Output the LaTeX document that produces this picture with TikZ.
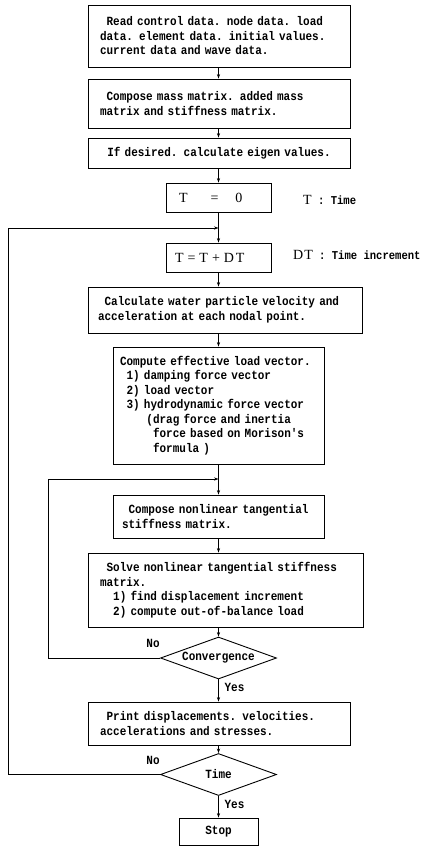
\documentclass[tikz,border=0pt]{standalone}
\usepackage{fontspec}
\setmainfont{Liberation Serif}
\setmonofont{Liberation Mono}[FakeStretch=0.88]
\usetikzlibrary{shapes.geometric,arrows.meta}
\newlength\chw
\setlength\chw{6.6pt}
\newcommand\ind[1]{\hspace*{#1\chw}}
\newcommand\bigT[1]{{\rmfamily\mdseries\fontsize{14}{14}\selectfont #1}}
\begin{document}
\begin{tikzpicture}[x=1pt,y=-1pt,
  txt/.style={font=\ttfamily\bfseries\fontsize{12.5}{14.5}\selectfont},
  box/.style={txt, draw, line width=0.9pt, inner ysep=0pt, inner xsep=12pt, align=left},
  tbox/.style={draw, line width=0.9pt, inner ysep=0pt, align=left, minimum height=29pt,
               font=\rmfamily\fontsize{14}{14}\selectfont},
  dia/.style={txt, draw, line width=0.9pt, diamond, aspect=2.76, inner sep=0pt,
              minimum width=116pt, minimum height=42pt},
  lbl/.style={txt, inner sep=0pt},
  rlbl/.style={font=\ttfamily\bfseries\fontsize{12}{12}\selectfont, inner sep=0pt, anchor=west},
  arr/.style={line width=0.8pt, -{Stealth[length=4.5pt,width=3.2pt]}}]
\fill[white] (0,0) rectangle (423,846);
\useasboundingbox (0,0) rectangle (423,846);

\node[box, text width=238pt, minimum height=62pt] (b1) at (219,36)
  {\ind{1}Read control data. node data. load\\data. element data. initial values.\\current data and wave data.};
\node[box, text width=238pt, minimum height=49pt] (b2) at (219,103.5)
  {\ind{1}Compose mass matrix. added mass\\matrix and stiffness matrix.};
\node[box, text width=238pt, minimum height=30pt, align=center] (b3) at (219,153)
  {If desired. calculate eigen values.};
\node[tbox, inner xsep=13pt, text width=79pt] (t0) at (218.5,197.5)
  {T\hspace{23pt}=\hspace{17pt}0};
\node[tbox, inner xsep=9pt, text width=87pt] (t1) at (218.5,257.5)
  {T\hspace{4pt}=\hspace{4pt}T\hspace{4pt}+\hspace{4pt}D\hspace{2pt}T};
\node[box, inner xsep=10pt, text width=254pt, minimum height=46pt] (b4) at (225,310)
  {\ind{1}Calculate water particle velocity and\\acceleration at each nodal point.};
\node[box, inner xsep=7pt, text width=197pt, minimum height=117pt] (b5) at (218.5,405.5)
  {Compute effective load vector.\\
   \ind{1}1) damping force vector\\
   \ind{1}2) load vector\\
   \ind{1}3) hydrodynamic force vector\\
   \ind{4}(drag force and inertia\\
   \ind{5}force based on Morison's\\
   \ind{5}formula )};
\node[box, inner xsep=9pt, text width=193pt, minimum height=43pt] (b6) at (218.5,516.5)
  {\ind{1}Compose nonlinear tangential\\stiffness matrix.};
\node[box, text width=251pt, minimum height=74pt] (b7) at (225.5,590)
  {\ind{1}Solve nonlinear tangential stiffness\\matrix.\\\ind{2}1) find displacement increment\\\ind{2}2) compute out-of-balance load};
\node[dia] (d1) at (218.5,658) {Convergence};
\node[box, text width=238pt, minimum height=43pt] (b8) at (219,723.5)
  {\ind{1}Print displacements. velocities.\\accelerations and stresses.};
\node[dia] (d2) at (218.5,774.5) {Time};
\node[box, align=center, inner xsep=0pt, minimum width=79pt, minimum height=27pt] (stop) at (218.5,831.5) {Stop};

\node[rlbl] (lt) at (303,200) {\bigT{T} : Time};
\node[rlbl] (ldt) at (293,255) {\bigT{D\hspace{1pt}T} : Time increment};

\node[lbl] (no1) at (153,643) {No};
\node[lbl] (yes1) at (234.5,687) {Yes};
\node[lbl] (no2) at (153,760) {No};
\node[lbl] (yes2) at (234.5,804) {Yes};

\coordinate (ax) at (218.5,0);
\coordinate (j1) at (218.5,228);
\coordinate (j2) at (218.5,479);
\coordinate (ox) at (8,0);
\coordinate (ix) at (48,0);

\draw[arr] (b1.south -| ax) -- (b2.north -| ax);
\draw[arr] (b2.south -| ax) -- (b3.north -| ax);
\draw[arr] (b3.south -| ax) -- (t0.north);
\draw[arr] (t0.south) -- (t1.north);
\draw[arr] (t1.south) -- (b4.north -| ax);
\draw[arr] (b4.south -| ax) -- (b5.north);
\draw[arr] (b5.south) -- (b6.north);
\draw[arr] (b6.south) -- (b7.north -| ax);
\draw[arr] (b7.south -| ax) -- (d1.north);
\draw[arr] (d1.south) -- (b8.north -| ax);
\draw[arr] (b8.south -| ax) -- (d2.north);
\draw[arr] (d2.south) -- (stop.north);
\draw[arr] (d1.west) -- (d1.west -| ix) -- (j2 -| ix) -- (j2);
\draw[arr] (d2.west) -- (d2.west -| ox) -- (j1 -| ox) -- (j1);
\end{tikzpicture}
\end{document}
